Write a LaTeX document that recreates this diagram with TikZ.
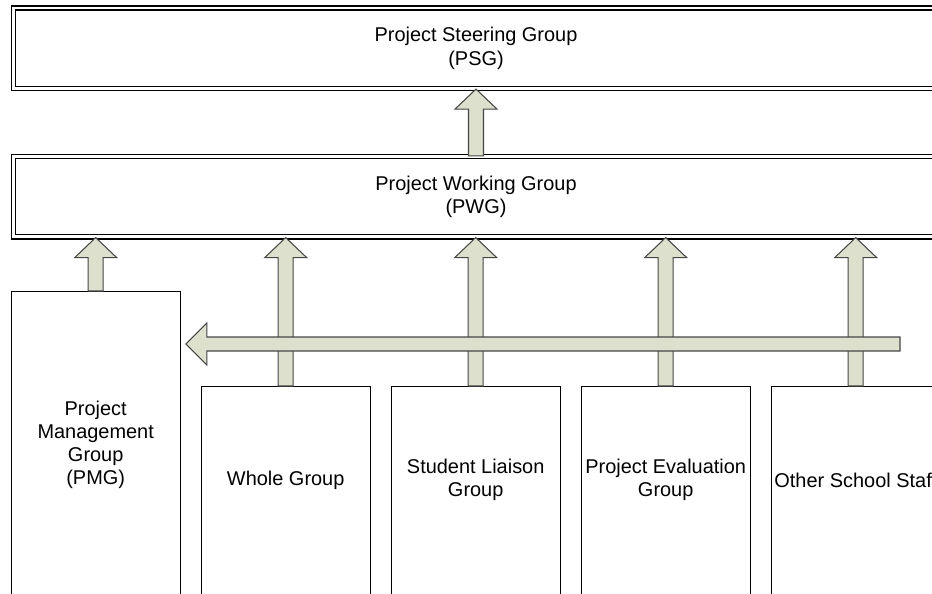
\documentclass[tikz,border=0pt]{standalone}
\usepackage{fontspec}
\setmainfont{Liberation Sans}
\usetikzlibrary{calc}
\definecolor{arrfill}{RGB}{221,224,204}
\definecolor{arrline}{RGB}{70,70,70}
\tikzset{
	lvl/.style={draw, double, line width=0.7pt, double distance=1.7pt, inner sep=0pt, minimum width=18.5cm, minimum height=1.61cm, align=center},
	grp/.style={draw, line width=0.7pt, inner sep=0pt, minimum width=3.38cm, minimum height=5.2cm},
	txt/.style={align=center, inner sep=0pt},
	blk/.style={fill=arrfill, draw=arrline, line width=0.6pt, line join=miter}
}
\newcommand{\blkup}[2]{%
	\filldraw[blk] ($(#1)+(-7.5,0)$) -- ($(#2)+(-7.5,20)$) -- ($(#2)+(-21,20)$) -- (#2) -- ($(#2)+(21,20)$) -- ($(#2)+(7.5,20)$) -- ($(#1)+(7.5,0)$) -- cycle;}
\begin{document}
\begin{tikzpicture}[x=0.02cm, y=-0.02cm, font=\fontsize{11.35pt}{13.2pt}\selectfont]
				\useasboundingbox (0,0) rectangle (932,594);
				\clip (0,0) rectangle (932,594);
				\node[lvl] (psg) at (476,48.25) {Project Steering Group\\(PSG)};
				\node[lvl] (pwg) at (476,196.75) {Project Working Group\\(PWG)};
				\node[grp, minimum height=7cm, anchor=north] (pmg) at (95.7,291) {};
				\foreach \n/\x in {whole/285.7, liaison/475.7, eval/665.7, staff/855.7}
					\node[grp, anchor=north] (\n) at (\x,386) {};
				\node[txt] (pmgtxt) at (95.7,445) {Project\\Management\\Group\\(PMG)};
				\foreach \n/\x/\t in {whole/285.7/Whole Group, liaison/475.7/{Student Liaison\\Group}, eval/665.7/{Project Evaluation\\Group}, staff/855.7/Other School Staff}
					\node[txt] (\n txt) at (\x,480) {\t};
				\blkup{pwg.north}{pwg.north |- psg.south}
				\foreach \n in {pmg, whole, liaison, eval, staff}
					\blkup{\n.north}{\n.north |- pwg.south}
				\path
				(900,344) coordinate (hend)
				($(pmg.east |- hend)+(5,0)$) coordinate (htip)
				;
				\filldraw[blk] ($(hend)+(0,-7)$) -- ($(htip)+(21,-7)$) -- ($(htip)+(21,-21)$) -- (htip) -- ($(htip)+(21,21)$) -- ($(htip)+(21,7)$) -- ($(hend)+(0,7)$) -- cycle;
			\end{tikzpicture}
\end{document}
